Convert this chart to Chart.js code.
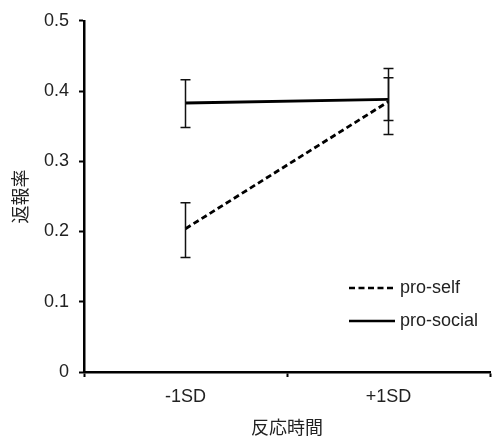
<!DOCTYPE html>
<html>
<head>
<meta charset="utf-8">
<script src="https://cdn.jsdelivr.net/npm/chart.js@4"></script>
<style>
  html, body { margin: 0; padding: 0; background: #fff; }
  #wrap { width: 492px; height: 437px; }
</style>
</head>
<body>
<div id="wrap"><canvas id="chart" width="492" height="437"></canvas></div>
<script>
const categories = ["-1SD", "+1SD"];
const seriesNames = ["pro-self", "pro-social"];
const proSelf = [0.204, 0.385];
const proSelfLow = [0.163, 0.338];
const proSelfHigh = [0.241, 0.432];
const proSocial = [0.383, 0.388];
const proSocialLow = [0.348, 0.358];
const proSocialHigh = [0.416, 0.419];
const yTicks = [0, 0.1, 0.2, 0.3, 0.4, 0.5];

const fontFamily = "'Liberation Sans', Arial, 'Noto Sans CJK JP', sans-serif";
const textColor = "#222";
const fontSize = 18;

// error bars drawn through the chart's own scales
const errorBars = {
  id: "errorBars",
  afterDatasetsDraw(chart) {
    const { ctx, scales } = chart;
    chart.data.datasets.forEach((ds) => {
      ds.low.forEach((lo, i) => {
        const x = scales.x.getPixelForValue(i);
        const yLo = scales.y.getPixelForValue(lo);
        const yHi = scales.y.getPixelForValue(ds.high[i]);
        ctx.save();
        ctx.strokeStyle = "#111";
        ctx.lineWidth = 1.5;
        ctx.beginPath();
        ctx.moveTo(x, yLo);
        ctx.lineTo(x, yHi);
        ctx.moveTo(x - 5, yLo);
        ctx.lineTo(x + 5, yLo);
        ctx.moveTo(x - 5, yHi);
        ctx.lineTo(x + 5, yHi);
        ctx.stroke();
        ctx.restore();
      });
    });
  },
};

// legend in the lower right of the plot area
const lineLegend = {
  id: "lineLegend",
  afterDraw(chart) {
    const { ctx, chartArea } = chart;
    const x0 = chartArea.right - 141;
    let y = chartArea.bottom - 84;
    chart.data.datasets.forEach((ds) => {
      ctx.save();
      ctx.strokeStyle = "#000";
      ctx.lineWidth = 2.5;
      ctx.setLineDash(ds.borderDash || []);
      ctx.beginPath();
      ctx.moveTo(x0, y);
      ctx.lineTo(x0 + 46, y);
      ctx.stroke();
      ctx.setLineDash([]);
      ctx.fillStyle = textColor;
      ctx.font = fontSize + "px " + fontFamily;
      ctx.textBaseline = "middle";
      ctx.fillText(ds.label, x0 + 51, y);
      ctx.restore();
      y += 33;
    });
  },
};

new Chart(document.getElementById("chart"), {
  type: "line",
  data: {
    labels: categories,
    datasets: [
      {
        label: seriesNames[0],
        data: proSelf,
        low: proSelfLow,
        high: proSelfHigh,
        borderColor: "#000",
        borderWidth: 2.8,
        borderDash: [6, 3.5],
        pointRadius: 0,
        fill: false,
      },
      {
        label: seriesNames[1],
        data: proSocial,
        low: proSocialLow,
        high: proSocialHigh,
        borderColor: "#000",
        borderWidth: 2.8,
        pointRadius: 0,
        fill: false,
      },
    ],
  },
  options: {
    responsive: false,
    animation: false,
    layout: { padding: { top: 20, right: 2, left: 0, bottom: 0 } },
    plugins: {
      legend: { display: false },
      tooltip: { enabled: false },
    },
    scales: {
      x: {
        offset: true,
        grid: {
          offset: true,
          drawOnChartArea: false,
          drawTicks: true,
          tickLength: 5,
          tickColor: "#000",
          tickWidth: 2,
        },
        border: { display: true, color: "#000", width: 2.5 },
        ticks: {
          color: textColor,
          font: { family: fontFamily, size: fontSize },
          padding: 9,
          maxRotation: 0,
        },
        title: {
          display: true,
          text: "反応時間",
          color: textColor,
          font: { family: fontFamily, size: fontSize },
          padding: { top: 2, bottom: -3 },
        },
        afterFit(scale) { scale.height = 65; },
      },
      y: {
        min: 0,
        max: 0.5,
        afterBuildTicks(scale) {
          scale.ticks = yTicks.map((v) => ({ value: v }));
        },
        grid: {
          drawOnChartArea: false,
          drawTicks: true,
          tickLength: 5,
          tickColor: "#000",
          tickWidth: 2,
        },
        border: { display: true, color: "#000", width: 2.5 },
        ticks: {
          color: textColor,
          font: { family: fontFamily, size: fontSize },
          padding: 10,
          callback: (v) => String(v),
        },
        title: {
          display: true,
          text: "返報率",
          color: textColor,
          font: { family: fontFamily, size: fontSize },
          padding: { top: 11, bottom: 0 },
        },
        afterFit(scale) { scale.width = 84; },
      },
    },
  },
  plugins: [errorBars, lineLegend],
});
</script>
</body>
</html>
